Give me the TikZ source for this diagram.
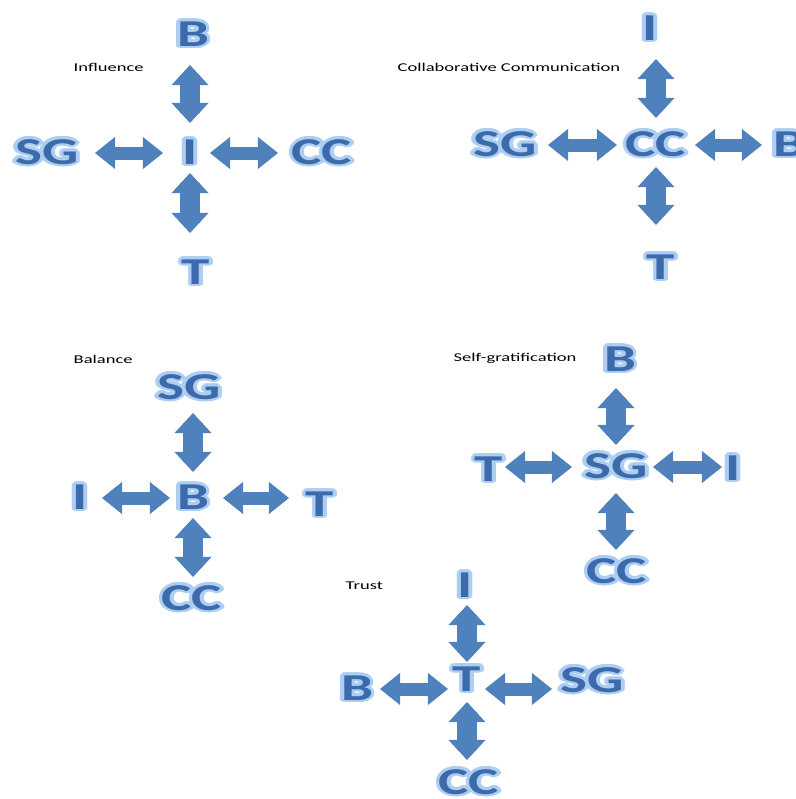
\documentclass[tikz,border=0pt]{standalone}
\usepackage{fontspec}
\setmainfont{Carlito}
\usepackage{xcolor}
\usepackage{graphicx}
\usepackage{contour}
\usepackage{tikz}
\usetikzlibrary{arrows.meta}
\definecolor{arrowblue}{RGB}{79,129,189}
\definecolor{letterblue}{RGB}{60,106,170}
\definecolor{letterglow}{RGB}{172,206,242}
\contourlength{0.7pt}
\newcommand{\wordart}[1]{\scalebox{1.5}[1]{\contour{letterglow}{#1}}}
\newcommand{\captext}[1]{\scalebox{1.55}[1]{#1}}
\tikzset{
  letter/.style  = {inner sep=0pt, text=letterblue,
                    font=\fontsize{10.8}{11}\selectfont\bfseries},
  caption/.style = {inner sep=0pt, anchor=west, text=black,
                    font=\fontsize{3.4}{4}\selectfont},
  htip/.tip      = {Triangle[width=3.2mm 0 0, length=2mm 0 0, line width=0pt 0 0]},
  vtip/.tip      = {Triangle[width=3.7mm 0 0, length=2mm 0 0, line width=0pt 0 0]},
  hlink/.style   = {line width=1.3mm, line cap=rect, draw=arrowblue, htip-htip},
  vlink/.style   = {line width=2mm, line cap=rect, draw=arrowblue, vtip-vtip},
}

\begin{document}
\begin{tikzpicture}[x=0.01cm, y=-0.01cm]
  \useasboundingbox (0,0) rectangle (796,799);

  % Influence
  \node[caption] (capinf) at (73,67)  {\captext{Influence}};
  \node[letter] (inf)   at (190,153) {\wordart{I}};
  \node[letter] (infB)  at (193,35)  {\wordart{B}};
  \node[letter] (infT)  at (196,273) {\wordart{T}};
  \node[letter] (infSG) at (47,153)  {\wordart{SG}};
  \node[letter] (infCC) at (322,153) {\wordart{CC}};
  \draw[vlink, shorten <=3mm,   shorten >=3mm]   (inf.center) -- (inf |- infB);
  \draw[vlink, shorten <=2mm,   shorten >=4mm]   (inf.center) -- (inf |- infT);
  \draw[hlink, shorten <=2.7mm, shorten >=4.8mm] (inf.center) -- (inf -| infSG);
  \draw[hlink, shorten <=2mm,   shorten >=4.4mm] (inf.center) -- (inf -| infCC);

  % Collaborative Communication
  \node[caption] (capcc) at (397,67) {\captext{Collaborative Communication}};
  \node[letter] (cc)   at (656,145) {\wordart{CC}};
  \node[letter] (ccI)  at (650,29)  {\wordart{I}};
  \node[letter] (ccT)  at (661,268) {\wordart{T}};
  \node[letter] (ccSG) at (505,145) {\wordart{SG}};
  \node[letter] (ccB)  at (789,145) {\wordart{B}};
  \draw[vlink, shorten <=2.7mm, shorten >=3mm]   (cc.center) -- (cc |- ccI);
  \draw[vlink, shorten <=2.2mm, shorten >=4.3mm] (cc.center) -- (cc |- ccT);
  \draw[hlink, shorten <=3.9mm, shorten >=4.3mm] (cc.center) -- (cc -| ccSG);
  \draw[hlink, shorten <=3.9mm, shorten >=2.7mm] (cc.center) -- (cc -| ccB);

  % Balance
  \node[caption] (capbal) at (73,359) {\captext{Balance}};
  \node[letter] (bal)   at (193,498) {\wordart{B}};
  \node[letter] (balSG) at (189,388) {\wordart{SG}};
  \node[letter] (balCC) at (192,599) {\wordart{CC}};
  \node[letter] (balI)  at (80,498)  {\wordart{I}};
  \node[letter] (balT)  at (320,505) {\wordart{T}};
  \draw[vlink, shorten <=2.6mm, shorten >=2.5mm] (bal.center) -- (bal |- balSG);
  \draw[vlink, shorten <=2mm,   shorten >=2.2mm] (bal.center) -- (bal |- balCC);
  \draw[hlink, shorten <=2.3mm, shorten >=2.2mm] (bal.center) -- (bal -| balI);
  \draw[hlink, shorten <=3mm,   shorten >=3.1mm] (bal.center) -- (bal -| balT);

  % Self-gratification
  \node[caption] (capsg) at (453,358) {\captext{Self-gratification}};
  \node[letter] (sg)   at (616,467) {\wordart{SG}};
  \node[letter] (sgB)  at (620,360) {\wordart{B}};
  \node[letter] (sgCC) at (617,572) {\wordart{CC}};
  \node[letter] (sgT)  at (489,470) {\wordart{T}};
  \node[letter] (sgI)  at (733,469) {\wordart{I}};
  \draw[vlink, shorten <=2.2mm, shorten >=2.8mm] (sg.center) -- (sg |- sgB);
  \draw[vlink, shorten <=2.6mm, shorten >=2.2mm] (sg.center) -- (sg |- sgCC);
  \draw[hlink, shorten <=4.4mm, shorten >=1.6mm] (sg.center) -- (sg -| sgT);
  \draw[hlink, shorten <=3.7mm, shorten >=1.1mm] (sg.center) -- (sg -| sgI);

  % Trust
  \node[caption] (captr) at (345,586) {\captext{Trust}};
  \node[letter] (tr)   at (467,680) {\wordart{T}};
  \node[letter] (trI)  at (465,586) {\wordart{I}};
  \node[letter] (trCC) at (469,783) {\wordart{CC}};
  \node[letter] (trB)  at (357,689) {\wordart{B}};
  \node[letter] (trSG) at (592,681) {\wordart{SG}};
  \draw[vlink, shorten <=1.8mm, shorten >=1.9mm] (tr.center) -- (tr |- trI);
  \draw[vlink, shorten <=2.2mm, shorten >=2.3mm] (tr.center) -- (tr |- trCC);
  \draw[hlink, shorten <=1.9mm, shorten >=2.3mm] (tr |- trB) -- (trB.center);
  \draw[hlink, shorten <=1.8mm, shorten >=4mm]   (tr |- trB) -- (trSG |- trB);
\end{tikzpicture}
\end{document}
